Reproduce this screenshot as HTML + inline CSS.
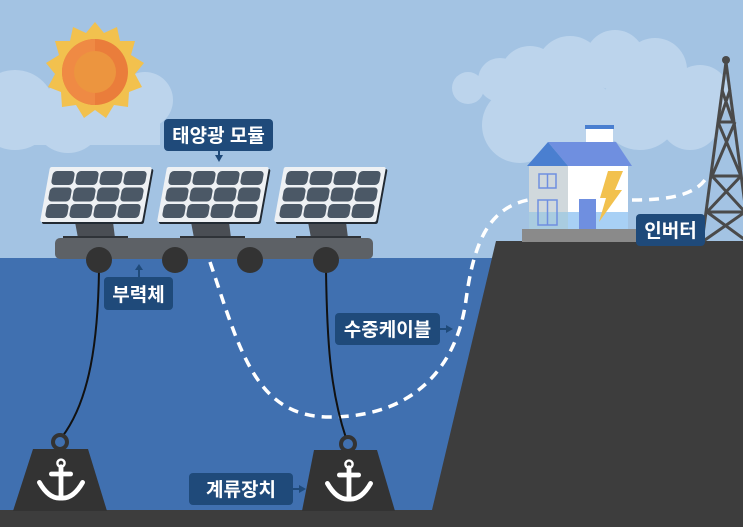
<!DOCTYPE html>
<html><head><meta charset="utf-8"><style>
html,body{margin:0;padding:0;width:743px;height:527px;overflow:hidden;background:#a3c3e3}
text{font-family:"Liberation Sans","Noto Sans CJK KR",sans-serif;font-weight:bold;fill:#fff}
</style></head><body>
<svg width="743" height="527" viewBox="0 0 743 527" xmlns="http://www.w3.org/2000/svg">
<defs>
<g id="panel">
  <g transform="skewX(-10.3)">
    <rect x="2" y="2" width="102" height="55" rx="2" fill="#222a33"/>
    <rect x="0" y="0" width="102" height="55" rx="2" fill="#eef1f4"/>
    <g fill="#4b5866">
      <rect x="4" y="4" width="22" height="14" rx="4"/><rect x="28" y="4" width="22" height="14" rx="4"/><rect x="52" y="4" width="22" height="14" rx="4"/><rect x="76" y="4" width="22" height="14" rx="4"/>
      <rect x="4" y="20.5" width="22" height="14" rx="4"/><rect x="28" y="20.5" width="22" height="14" rx="4"/><rect x="52" y="20.5" width="22" height="14" rx="4"/><rect x="76" y="20.5" width="22" height="14" rx="4"/>
      <rect x="4" y="37" width="22" height="14" rx="4"/><rect x="28" y="37" width="22" height="14" rx="4"/><rect x="52" y="37" width="22" height="14" rx="4"/><rect x="76" y="37" width="22" height="14" rx="4"/>
    </g>
  </g>
</g>
<g id="anchor" fill="none" stroke="#fff" stroke-width="4" stroke-linecap="round" transform="scale(1.2)">
  <circle cx="0" cy="-14" r="3" stroke-width="2"/>
  <line x1="0" y1="-11" x2="0" y2="14"/>
  <line x1="-8" y1="-5" x2="8" y2="-5"/>
  <path d="M-18,2 Q-10,16 0,15 Q10,16 18,2"/>
</g>
</defs>
<g fill="#bcd4ec">
  <circle cx="15" cy="110" r="40"/><circle cx="68" cy="118" r="35"/><circle cx="110" cy="100" r="35"/><circle cx="145" cy="100" r="28"/><rect x="0" y="100" width="160" height="45"/>
  <circle cx="468" cy="88" r="16"/><circle cx="500" cy="80" r="22"/><circle cx="530" cy="76" r="30"/><circle cx="570" cy="70" r="34"/><circle cx="615" cy="60" r="30"/><circle cx="655" cy="70" r="32"/><circle cx="700" cy="95" r="30"/>
  <circle cx="520" cy="125" r="38"/><circle cx="580" cy="120" r="40"/><circle cx="640" cy="110" r="40"/><circle cx="690" cy="120" r="30"/>
</g>
<g transform="translate(95,72)">
  <polygon fill="#f2c14e" points="0,-50 9,-39 22,-45 25,-31 40,-31 36,-17 49,-9 40,2 47,15 34,20 33,35 19,33 11,46 0,38 -11,46 -19,33 -33,35 -34,20 -47,15 -40,2 -49,-9 -36,-17 -40,-31 -25,-31 -22,-45 -9,-39"/>
  <circle r="33" fill="#ea7d3b"/>
  <path d="M0,-33 A33,33 0 0 0 0,33 Z" fill="#ef8a44"/>
  <circle r="21" fill="#ec953f"/>
</g>
<rect x="0" y="258" width="743" height="269" fill="#4070b0"/>
<polygon points="496,241 743,241 743,527 432,527 432,510" fill="#3d3d3d"/>
<rect x="0" y="510" width="743" height="17" fill="#3d3d3d"/>
<g stroke="#4a4a4a" stroke-width="3" fill="none">
  <line x1="726" y1="62" x2="702" y2="242"/><line x1="726" y1="62" x2="750" y2="242"/>
  <line x1="718" y1="122" x2="735" y2="122"/><line x1="712" y1="176" x2="741" y2="176"/><line x1="707" y1="212" x2="745" y2="212"/>
  <path d="M722,90 L733,122 M730,90 L719,122 M718,122 L741,176 M735,122 L712,176 M712,176 L745,212 M741,176 L707,212 M707,212 L748,242 M745,212 L702,242"/>
</g>
<circle cx="726" cy="60" r="4" fill="#4a4a4a"/>
<rect x="522" y="229" width="114" height="13" fill="#8a8a8a"/>
<rect x="529" y="166" width="39" height="63" fill="#d0d8dc"/>
<rect x="568" y="166" width="60" height="63" fill="#fff"/>
<rect x="529" y="212" width="39" height="17" fill="#a9cce0"/>
<rect x="568" y="212" width="60" height="17" fill="#a8d0f5"/>
<rect x="586" y="126" width="27" height="16" fill="#fff"/>
<rect x="585" y="125" width="29" height="4" fill="#4a7fd0"/>
<polygon points="548,142 616,142 632,166 568,166" fill="#6f8fe0"/>
<polygon points="548,142 568,166 527,166" fill="#4a7fd0"/>
<g fill="none" stroke="#6f8fe0" stroke-width="1.5">
  <rect x="539" y="174" width="17" height="14"/><line x1="547.5" y1="174" x2="547.5" y2="188"/>
  <rect x="538" y="200" width="19" height="25"/><line x1="547.5" y1="200" x2="547.5" y2="225"/>
</g>
<rect x="579" y="199" width="17" height="30" fill="#6f8fe0"/>
<polygon points="608,171 623,171 615,190 622,190 599,222 606,198 600,198" fill="#f2c14e"/>
<g fill="none" stroke="#fff" stroke-width="3.5" stroke-dasharray="10,7">
  <path d="M210,262 C240,350 255,417 330,417 C420,417 458,360 466,300 C474,240 490,208 528,200"/>
  <path d="M632,200 C670,200 698,195 708,175"/>
</g>
<g fill="none" stroke="#111" stroke-width="2">
  <path d="M99,270 C98,340 90,400 62,437"/>
  <path d="M326,270 C327,340 330,390 346,438"/>
</g>
<circle cx="60" cy="442" r="7" fill="none" stroke="#333" stroke-width="4"/>
<polygon points="33,449 88,449 107,511 13,511" fill="#333"/>
<use href="#anchor" x="61" y="480"/>
<circle cx="348" cy="444" r="7" fill="none" stroke="#333" stroke-width="4"/>
<polygon points="314,450 377,450 395,511 302,511" fill="#333"/>
<use href="#anchor" x="349" y="481"/>
<g fill="#4a4e54">
  <polygon points="75,222 113,222 115,238 78,238"/>
  <polygon points="191,222 229,222 231,238 194,238"/>
  <polygon points="308,222 346,222 348,238 311,238"/>
</g>
<g fill="#2f3338"><rect x="63" y="236" width="65" height="3"/><rect x="180" y="236" width="65" height="3"/><rect x="296" y="236" width="65" height="3"/></g>
<rect x="55" y="238" width="318" height="21" rx="5" fill="#5d6166"/>
<use href="#panel" x="50" y="167"/>
<use href="#panel" x="167" y="167"/>
<use href="#panel" x="284" y="167"/>
<g fill="#333"><circle cx="99" cy="260" r="13"/><circle cx="175" cy="260" r="13"/><circle cx="250" cy="260" r="13"/><circle cx="326" cy="260" r="13"/></g>
<g fill="#1f4a7a">
  <rect x="164" y="119" width="109" height="32" rx="4"/>
  <polygon points="215,155 223,155 219,162"/><rect x="218" y="150" width="2" height="6"/>
  <rect x="104" y="277" width="69" height="33" rx="4"/>
  <polygon points="135,270 143,270 139,264"/><rect x="138" y="269" width="2" height="8"/>
  <rect x="335" y="313" width="105" height="32" rx="4"/>
  <polygon points="446,325 446,333 453,329"/><rect x="439" y="328" width="8" height="2"/>
  <rect x="189" y="473" width="104" height="32" rx="4"/>
  <polygon points="299,485 299,493 306,489"/><rect x="292" y="488" width="8" height="2"/>
  <rect x="636" y="214" width="69" height="32" rx="4"/>
</g>
<text x="218.5" y="142" font-size="19" text-anchor="middle">태양광 모듈</text>
<text x="138.5" y="301" font-size="19" text-anchor="middle">부력체</text>
<text x="387.5" y="336" font-size="19" text-anchor="middle">수중케이블</text>
<text x="241" y="496" font-size="19" text-anchor="middle">계류장치</text>
<text x="670.5" y="237" font-size="19" text-anchor="middle">인버터</text>
</svg>
</body></html>
